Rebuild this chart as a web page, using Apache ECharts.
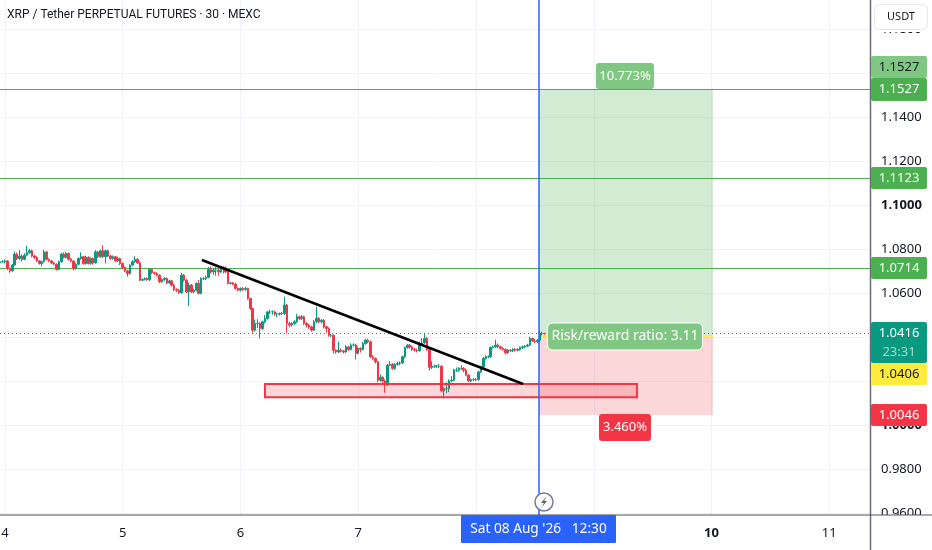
<!DOCTYPE html>
<html><head><meta charset="utf-8">
<style>html,body{margin:0;padding:0;background:#fff}#c{width:932px;height:550px}</style>
<script src="https://cdn.jsdelivr.net/npm/echarts@6/dist/echarts.min.js"></script>
</head><body><div id="c"></div>
<script>
const titleText = "XRP / Tether PERPETUAL FUTURES · 30 · MEXC";
const opens = [
1.0738,1.0743,1.0743,1.0747,1.0713,1.0702,1.0728,1.0778,1.0758,1.0769,
1.0754,1.0773,1.0784,1.0793,1.0769,1.0763,1.0747,1.0735,1.0743,1.0788,
1.0754,1.0747,1.0738,1.0732,1.0708,1.0743,1.0778,1.0763,1.0781,1.0754,
1.0747,1.0713,1.0732,1.0758,1.0766,1.0735,1.0763,1.0735,1.0758,1.0738,
1.0788,1.0766,1.0793,1.0766,1.0793,1.0769,1.0758,1.0766,1.0747,1.0758,
1.0735,1.0717,1.0702,1.0690,1.0728,1.0743,1.0754,1.0738,1.0659,1.0662,
1.0667,1.0662,1.0708,1.0693,1.0690,1.0682,1.0652,1.0662,1.0667,1.0647,
1.0656,1.0637,1.0617,1.0614,1.0602,1.0682,1.0659,1.0606,1.0637,1.0606,
1.0614,1.0644,1.0599,1.0667,1.0667,1.0672,1.0708,1.0697,1.0705,1.0705,
1.0697,1.0713,1.0713,1.0697,1.0644,1.0647,1.0641,1.0622,1.0614,1.0622,
1.0617,1.0622,1.0576,1.0530,1.0432,1.0462,1.0462,1.0440,1.0470,1.0485,
1.0515,1.0515,1.0515,1.0505,1.0505,1.0508,1.0508,1.0546,1.0462,1.0455,
1.0462,1.0470,1.0493,1.0485,1.0493,1.0462,1.0455,1.0447,1.0432,1.0470,
1.0485,1.0470,1.0477,1.0447,1.0440,1.0409,1.0409,1.0341,1.0333,1.0341,
1.0338,1.0333,1.0356,1.0344,1.0364,1.0364,1.0326,1.0349,1.0344,1.0371,
1.0386,1.0379,1.0311,1.0303,1.0288,1.0204,1.0217,1.0201,1.0182,1.0273,
1.0277,1.0258,1.0277,1.0280,1.0283,1.0311,1.0353,1.0364,1.0356,1.0344,
1.0341,1.0338,1.0371,1.0374,1.0394,1.0344,1.0262,1.0268,1.0268,1.0268,
1.0268,1.0156,1.0166,1.0166,1.0201,1.0204,1.0250,1.0250,1.0258,1.0258,
1.0250,1.0227,1.0201,1.0207,1.0207,1.0207,1.0242,1.0265,1.0303,1.0311,
1.0311,1.0353,1.0356,1.0364,1.0356,1.0349,1.0344,1.0329,1.0341,1.0338,
1.0344,1.0341,1.0344,1.0353,1.0356,1.0359,1.0364,1.0394,1.0383,1.0379,
1.0386,1.0417,1.0417];
const closes = [
1.0743,1.0743,1.0747,1.0713,1.0702,1.0728,1.0778,1.0758,1.0769,1.0754,
1.0773,1.0784,1.0793,1.0769,1.0763,1.0747,1.0735,1.0743,1.0788,1.0754,
1.0747,1.0738,1.0732,1.0708,1.0743,1.0778,1.0763,1.0781,1.0754,1.0747,
1.0713,1.0732,1.0758,1.0766,1.0735,1.0763,1.0735,1.0758,1.0738,1.0788,
1.0766,1.0793,1.0766,1.0793,1.0769,1.0758,1.0766,1.0747,1.0758,1.0735,
1.0717,1.0702,1.0690,1.0728,1.0743,1.0754,1.0738,1.0659,1.0662,1.0667,
1.0662,1.0708,1.0693,1.0690,1.0682,1.0652,1.0662,1.0667,1.0647,1.0656,
1.0637,1.0617,1.0614,1.0602,1.0682,1.0659,1.0606,1.0637,1.0606,1.0614,
1.0644,1.0599,1.0667,1.0667,1.0672,1.0708,1.0697,1.0705,1.0705,1.0697,
1.0713,1.0713,1.0697,1.0644,1.0647,1.0641,1.0622,1.0614,1.0622,1.0617,
1.0622,1.0576,1.0530,1.0432,1.0462,1.0462,1.0440,1.0470,1.0485,1.0515,
1.0515,1.0515,1.0505,1.0505,1.0508,1.0508,1.0546,1.0462,1.0455,1.0462,
1.0470,1.0493,1.0485,1.0493,1.0462,1.0455,1.0447,1.0432,1.0470,1.0485,
1.0470,1.0477,1.0447,1.0440,1.0409,1.0409,1.0341,1.0333,1.0341,1.0338,
1.0333,1.0356,1.0344,1.0364,1.0364,1.0326,1.0349,1.0344,1.0371,1.0386,
1.0379,1.0311,1.0303,1.0288,1.0204,1.0217,1.0201,1.0182,1.0273,1.0277,
1.0258,1.0277,1.0280,1.0283,1.0311,1.0353,1.0364,1.0356,1.0344,1.0341,
1.0338,1.0371,1.0374,1.0394,1.0344,1.0262,1.0268,1.0268,1.0268,1.0268,
1.0156,1.0166,1.0166,1.0201,1.0204,1.0250,1.0250,1.0258,1.0258,1.0250,
1.0227,1.0201,1.0207,1.0207,1.0207,1.0242,1.0265,1.0303,1.0311,1.0311,
1.0353,1.0356,1.0364,1.0356,1.0349,1.0344,1.0329,1.0341,1.0338,1.0344,
1.0341,1.0344,1.0353,1.0356,1.0359,1.0364,1.0394,1.0383,1.0379,1.0386,
1.0417,1.0417,1.0416];
const highs = [
1.0750,1.0750,1.0754,1.0750,1.0717,1.0733,1.0790,1.0785,1.0796,1.0777,
1.0782,1.0816,1.0802,1.0798,1.0775,1.0768,1.0750,1.0748,1.0797,1.0792,
1.0758,1.0751,1.0742,1.0736,1.0748,1.0784,1.0786,1.0788,1.0785,1.0760,
1.0750,1.0737,1.0763,1.0786,1.0770,1.0770,1.0768,1.0763,1.0763,1.0796,
1.0793,1.0798,1.0819,1.0798,1.0798,1.0775,1.0772,1.0770,1.0766,1.0762,
1.0740,1.0722,1.0707,1.0732,1.0750,1.0768,1.0760,1.0745,1.0668,1.0672,
1.0672,1.0715,1.0712,1.0698,1.0695,1.0686,1.0668,1.0673,1.0672,1.0662,
1.0660,1.0642,1.0622,1.0620,1.0692,1.0688,1.0665,1.0648,1.0642,1.0620,
1.0650,1.0660,1.0672,1.0673,1.0680,1.0720,1.0722,1.0712,1.0718,1.0712,
1.0722,1.0722,1.0722,1.0700,1.0652,1.0652,1.0647,1.0626,1.0626,1.0628,
1.0630,1.0625,1.0580,1.0534,1.0480,1.0482,1.0468,1.0475,1.0500,1.0520,
1.0525,1.0522,1.0520,1.0512,1.0512,1.0514,1.0584,1.0552,1.0470,1.0468,
1.0478,1.0506,1.0498,1.0500,1.0498,1.0468,1.0460,1.0452,1.0478,1.0538,
1.0492,1.0482,1.0482,1.0452,1.0445,1.0415,1.0412,1.0345,1.0380,1.0348,
1.0342,1.0365,1.0360,1.0372,1.0372,1.0370,1.0358,1.0354,1.0378,1.0392,
1.0392,1.0384,1.0318,1.0308,1.0292,1.0230,1.0222,1.0208,1.0278,1.0290,
1.0282,1.0282,1.0288,1.0290,1.0316,1.0358,1.0368,1.0368,1.0362,1.0352,
1.0348,1.0380,1.0395,1.0420,1.0402,1.0350,1.0290,1.0275,1.0274,1.0278,
1.0272,1.0172,1.0195,1.0208,1.0222,1.0256,1.0262,1.0264,1.0272,1.0264,
1.0256,1.0232,1.0212,1.0214,1.0214,1.0248,1.0270,1.0310,1.0318,1.0317,
1.0358,1.0362,1.0389,1.0372,1.0362,1.0354,1.0349,1.0346,1.0346,1.0350,
1.0350,1.0350,1.0358,1.0362,1.0364,1.0370,1.0402,1.0398,1.0392,1.0392,
1.0432,1.0425,1.0420];
const lows = [
1.0734,1.0738,1.0735,1.0705,1.0693,1.0698,1.0725,1.0750,1.0752,1.0745,
1.0750,1.0768,1.0778,1.0763,1.0755,1.0742,1.0730,1.0722,1.0740,1.0748,
1.0742,1.0733,1.0727,1.0703,1.0704,1.0739,1.0758,1.0758,1.0749,1.0741,
1.0704,1.0708,1.0728,1.0752,1.0730,1.0730,1.0731,1.0730,1.0730,1.0735,
1.0760,1.0762,1.0760,1.0735,1.0764,1.0752,1.0752,1.0741,1.0742,1.0728,
1.0711,1.0696,1.0675,1.0685,1.0722,1.0738,1.0733,1.0655,1.0656,1.0658,
1.0656,1.0655,1.0688,1.0684,1.0676,1.0646,1.0648,1.0656,1.0641,1.0642,
1.0631,1.0611,1.0606,1.0597,1.0598,1.0652,1.0600,1.0541,1.0600,1.0600,
1.0608,1.0595,1.0595,1.0660,1.0660,1.0668,1.0690,1.0685,1.0680,1.0680,
1.0692,1.0690,1.0692,1.0640,1.0640,1.0635,1.0616,1.0608,1.0608,1.0611,
1.0612,1.0570,1.0525,1.0420,1.0425,1.0442,1.0394,1.0432,1.0462,1.0480,
1.0505,1.0502,1.0496,1.0490,1.0498,1.0500,1.0500,1.0417,1.0445,1.0448,
1.0456,1.0465,1.0478,1.0478,1.0456,1.0445,1.0438,1.0425,1.0428,1.0465,
1.0464,1.0462,1.0440,1.0420,1.0402,1.0400,1.0325,1.0325,1.0328,1.0330,
1.0326,1.0328,1.0338,1.0340,1.0358,1.0298,1.0322,1.0330,1.0340,1.0366,
1.0372,1.0305,1.0295,1.0280,1.0195,1.0198,1.0192,1.0147,1.0178,1.0268,
1.0252,1.0252,1.0270,1.0272,1.0278,1.0305,1.0348,1.0348,1.0338,1.0334,
1.0330,1.0334,1.0362,1.0370,1.0338,1.0248,1.0255,1.0260,1.0260,1.0260,
1.0150,1.0121,1.0145,1.0150,1.0195,1.0200,1.0242,1.0242,1.0252,1.0240,
1.0222,1.0195,1.0195,1.0200,1.0200,1.0202,1.0238,1.0260,1.0298,1.0304,
1.0306,1.0348,1.0350,1.0350,1.0343,1.0338,1.0322,1.0324,1.0332,1.0332,
1.0334,1.0335,1.0338,1.0346,1.0351,1.0354,1.0360,1.0378,1.0372,1.0374,
1.0382,1.0408,1.0411];
const barCount = 356;
const dayIndexes = [2,50,98,146,194,242,290,338];
const dayLabels = ["4","5","6","7","8","9","10","11"];
const priceTicks = [0.96,0.98,1.00,1.02,1.04,1.06,1.08,1.10,1.12,1.14,1.16,1.18];
const boldTicks = [1.00,1.10];
const levels = [1.1527,1.1123,1.0714];
const lastPrice = 1.0416, entry = 1.0406, target = 1.1527, stop = 1.0046;
const posStart = 219.7, posEnd = 290.6;
const trend = [[82.3,1.0751],[213.2,1.0187]];
const zone = [[108,1.0187],[259.6,1.0127]];
const cursor = 219.6;
const FONT = '"Noto Sans"';
const UP='#089981', DOWN='#F23645', GREEN='#4CAF50';

const categories = Array.from({length:barCount},(_,i)=>String(i));
const candles = closes.map((c,i)=>[opens[i],c,lows[i],highs[i]]);
const chart = echarts.init(document.getElementById('c'),null,{renderer:'canvas'});

const hLine = (v,lineStyle)=>[{xAxis:0,yAxis:v,lineStyle},{xAxis:barCount-1,yAxis:v}];

chart.setOption({
  animation:false, backgroundColor:'#fff',
  textStyle:{fontFamily:FONT},
  title:{text:titleText,left:7,top:9,padding:0,textStyle:{fontFamily:'Roboto',fontSize:12,fontWeight:'normal',color:'#131722'}},
  grid:{left:0,top:0,width:871,height:515,containLabel:false,outerBoundsMode:'none'},
  xAxis:[
   {type:'category',data:categories,boundaryGap:false,
    axisLine:{show:false},axisTick:{show:false},
    axisLabel:{show:true,margin:12,fontSize:13,fontFamily:FONT,color:'#131722',
      interval:(i)=>dayIndexes.includes(i),
      formatter:(v,i)=>{const k=dayIndexes.indexOf(i);return k<0?'':(dayLabels[k]==='10'?'{b|10}':dayLabels[k]);},
      rich:{b:{fontWeight:'bold',fontSize:13,fontFamily:FONT,color:'#131722'}}},
    splitLine:{show:true,interval:(i)=>dayIndexes.includes(i),lineStyle:{color:'#f0f3fa',width:1}}},
   {type:'value',min:0,max:barCount-1,show:false,splitLine:{show:false}}
  ],
  yAxis:{type:'value',position:'right',min:0.9591,max:1.1934,scale:true,
    axisLine:{show:false},
    axisTick:{show:false,customValues:priceTicks},
    axisLabel:{margin:10,fontSize:13,fontFamily:FONT,color:'#131722',showMinLabel:true,showMaxLabel:true,
      customValues:priceTicks,
      formatter:(v)=>boldTicks.some(t=>Math.abs(t-v)<1e-6)?'{b|'+v.toFixed(4)+'}':v.toFixed(4),
      rich:{b:{fontWeight:'bold',fontSize:13,fontFamily:FONT,color:'#131722'}}},
    splitLine:{show:true,lineStyle:{color:'#f0f3fa',width:1}}},
  series:[
   {type:'line',name:'position',xAxisIndex:1,data:[],z:1,silent:true,
    markArea:{silent:true,z:1,data:[
      [{xAxis:posStart,yAxis:target,itemStyle:{color:'rgba(76,175,80,0.25)'}},{xAxis:posEnd,yAxis:entry}],
      [{xAxis:posStart,yAxis:entry,itemStyle:{color:'rgba(242,54,69,0.2)'}},{xAxis:posEnd,yAxis:stop}]
    ]},
    markLine:{silent:true,symbol:'none',z:1,label:{show:false},data:[
      ...levels.map(v=>hLine(v,{color:GREEN,width:1,type:'solid'})),
      hLine(lastPrice,{color:UP,width:1,type:[1,3]}),
      [{xAxis:posStart,yAxis:entry,lineStyle:{color:'#FFEB3B',width:1.5,type:'solid'}},{xAxis:posEnd,yAxis:entry}]
    ]}},
   {type:'candlestick',name:'XRPUSDT',data:candles,barWidth:2,z:3,silent:true,
    itemStyle:{color:UP,color0:DOWN,borderColor:UP,borderColor0:DOWN,borderWidth:1}},
   {type:'line',name:'drawings',xAxisIndex:1,data:[],z:4,silent:true,
    markArea:{silent:true,z:4,data:[
      [{xAxis:zone[0][0],yAxis:zone[0][1],itemStyle:{color:'rgba(242,54,69,0.2)',borderColor:DOWN,borderWidth:2}},
       {xAxis:zone[1][0],yAxis:zone[1][1]}]
    ]},
    markLine:{silent:true,symbol:'none',z:5,label:{show:false},data:[
      [{xAxis:trend[0][0],yAxis:trend[0][1],lineStyle:{color:'#000',width:2.5,type:'solid'}},{xAxis:trend[1][0],yAxis:trend[1][1]}],
      [{xAxis:cursor,yAxis:0.9591,lineStyle:{color:'#2962FF',width:1.5,type:'solid'}},{xAxis:cursor,yAxis:1.1934}]
    ]}}
  ]
});

function tag(x,y,w,h,fill,text,color,opt={}){
  return {type:'group',z:50,children:[
    {type:'rect',z:50,shape:{x,y,width:w,height:h,r:opt.r??2},
     style:{fill,stroke:opt.stroke||null,lineWidth:opt.stroke?1:0}},
    {type:'text',z:51,x:x+w/2,y:y+(opt.dy??h/2),
     style:{text,fill:color,font:(opt.font||'13px')+' '+FONT,align:'center',verticalAlign:'middle'}}
  ]};
}
const g=[];
g.push({type:'rect',z:40,shape:{x:872,y:0,width:60,height:32},style:{fill:'#fff'}});
g.push({type:'rect',z:40,shape:{x:872,y:515,width:60,height:35},style:{fill:'#fff'}});
g.push({type:'rect',z:41,shape:{x:874.5,y:4.5,width:53,height:25,r:4},style:{fill:'#fff',stroke:'#e6e8ee',lineWidth:1}});
g.push({type:'text',z:42,x:901,y:17,style:{text:'USDT',fill:'#131722',font:'11px '+FONT,align:'center',verticalAlign:'middle'}});
g.push({type:'line',z:45,shape:{x1:870.5,y1:0,x2:870.5,y2:550},style:{stroke:'#6a6d78',lineWidth:1.5}});
g.push({type:'line',z:45,shape:{x1:0,y1:515,x2:932,y2:515},style:{stroke:'#50535e',lineWidth:1}});
g.push(tag(871,56,56,22,'#81C784',target.toFixed(4),'#131722'));
g.push(tag(871,78,56,23,GREEN,target.toFixed(4),'#fff'));
g.push(tag(871,167,56,22,GREEN,levels[1].toFixed(4),'#fff'));
g.push(tag(871,257,56,22,GREEN,levels[2].toFixed(4),'#fff'));
g.push(tag(871,322,56,41,UP,lastPrice.toFixed(4),'#fff',{dy:11.5}));
g.push({type:'text',z:52,x:899,y:352,style:{text:'23:31',fill:'#a8dccb',font:'13px '+FONT,align:'center',verticalAlign:'middle'}});
g.push(tag(871,363,56,22,'#FFEB3B',entry.toFixed(4),'#131722'));
g.push(tag(871,404,56,22,DOWN,stop.toFixed(4),'#fff'));
g.push(tag(596,63,58,26,'#81C784','10.773%','#fff',{r:3}));
g.push(tag(599,414,52,27,DOWN,'3.460%','#fff',{r:3}));
g.push(tag(547.5,323,155,27,'#81C784','Risk/reward ratio: 3.11','#fff',{r:5,stroke:'#fff',font:'14px'}));
g.push(tag(461,515,155,28,'#2962FF',"Sat 08 Aug '26   12:30",'#fff',{r:1,font:'13.7px'}));
g.push({type:'circle',z:46,shape:{cx:544,cy:502,r:9},style:{fill:'#fff',stroke:'#787b9a',lineWidth:1.5}});
g.push({type:'polygon',z:47,shape:{points:[[547,496],[541,503],[544,503],[541,508],[547,501],[544,501]]},style:{fill:'#5d606b'}});
chart.setOption({graphic:g});
</script></body></html>
